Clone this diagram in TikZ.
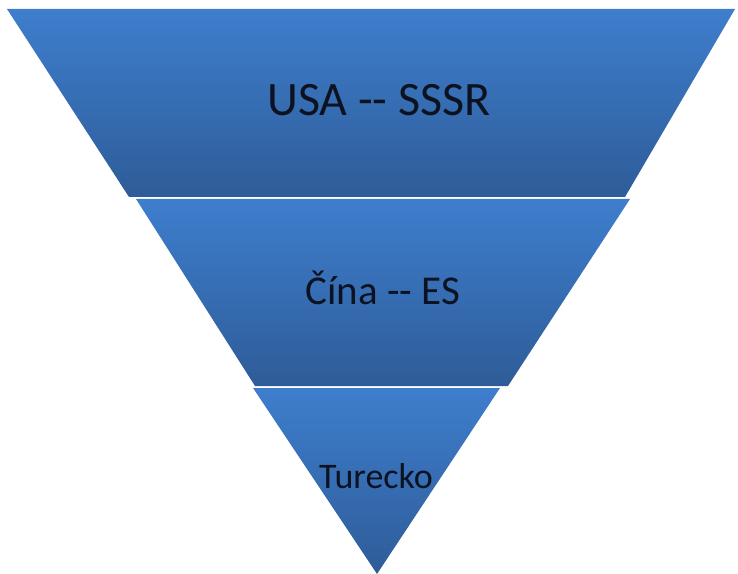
\documentclass[tikz,border=0pt]{standalone}
\usepackage{fontspec}
\setmainfont{Carlito}[Ligatures=ResetAll]
\definecolor{bandtop}{RGB}{62,126,205}
\definecolor{bandbot}{RGB}{46,92,152}
\definecolor{txt}{RGB}{12,18,32}
\tikzset{
  band/.style={top color=bandtop, bottom color=bandbot, draw=none},
  lbl/.style={anchor=base, text=txt, inner sep=0pt}
}
\begin{document}
\begin{tikzpicture}[x=1bp,y=-1bp]
\useasboundingbox (0,0) rectangle (738,574);
\path[band] (7,9) -- (735,9) -- (625,197) -- (129,197) -- cycle;
\path[band] (136,199) -- (630,199) -- (508,386) -- (255,386) -- cycle;
\path[band] (253,388) -- (500,388) -- (377,574) -- cycle;
\node[lbl, font=\fontsize{48bp}{50bp}\selectfont] (t1) at (379,116) {USA -\kern0pt- SSSR};
\node[lbl, font=\fontsize{41bp}{43bp}\selectfont] (t2) at (383,304) {Čína -\kern0pt- ES};
\node[lbl, font=\fontsize{36bp}{38bp}\selectfont] (t3) at (376,488) {Turecko};
\end{tikzpicture}
\end{document}
